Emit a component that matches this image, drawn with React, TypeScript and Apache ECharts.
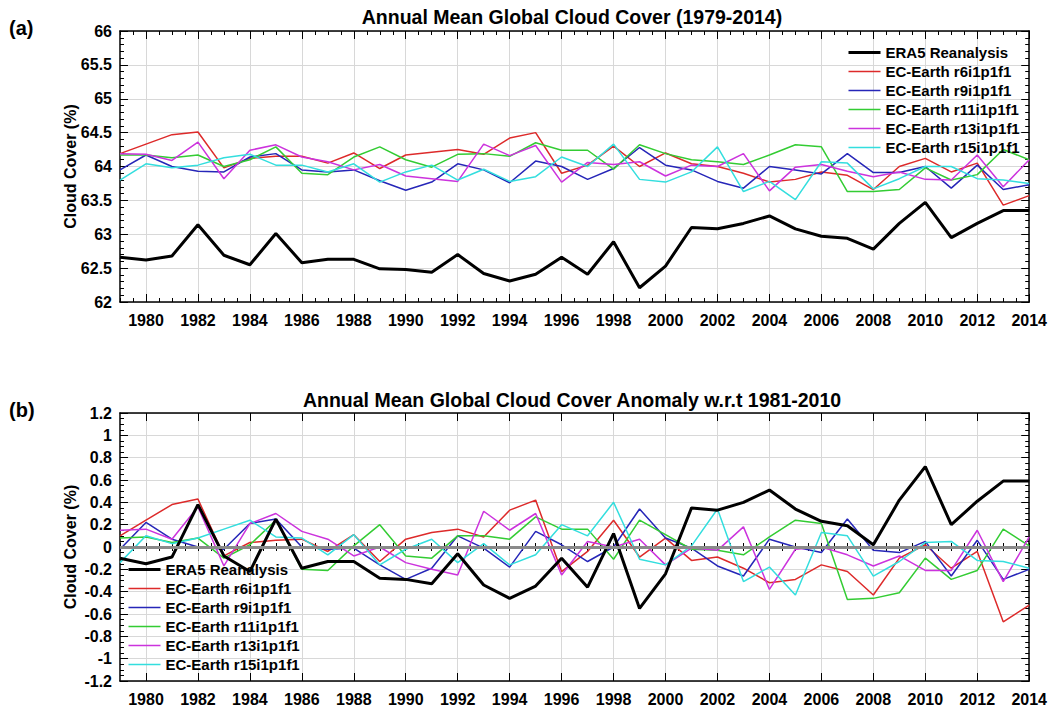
import React, { useEffect, useRef } from "react";
import * as echarts from "echarts";

const years = [
  "1979", "1980", "1981", "1982", "1983", "1984", "1985", "1986", "1987", "1988", "1989", "1990",
  "1991", "1992", "1993", "1994", "1995", "1996", "1997", "1998", "1999", "2000", "2001", "2002",
  "2003", "2004", "2005", "2006", "2007", "2008", "2009", "2010", "2011", "2012", "2013", "2014",
];

const seriesNames = [
  "ERA5 Reanalysis",
  "EC-Earth r6i1p1f1",
  "EC-Earth r9i1p1f1",
  "EC-Earth r11i1p1f1",
  "EC-Earth r13i1p1f1",
  "EC-Earth r15i1p1f1",
];

// Panel (a): annual mean cloud cover (%)
const era5A = [62.66, 62.62, 62.68, 63.14, 62.69, 62.55, 63.01, 62.58, 62.63, 62.63, 62.49, 62.48,
  62.44, 62.70, 62.42, 62.31, 62.41, 62.66, 62.41, 62.89, 62.21, 62.53, 63.10, 63.08,
  63.16, 63.27, 63.08, 62.97, 62.94, 62.78, 63.16, 63.47, 62.95, 63.16, 63.35, 63.35];
const r6A = [64.19, 64.33, 64.47, 64.51, 63.98, 64.12, 64.15, 64.15, 64.05, 64.20, 63.97, 64.17,
  64.21, 64.25, 64.18, 64.42, 64.50, 63.90, 64.02, 64.30, 64.00, 64.20, 64.04, 64.00,
  63.90, 63.77, 63.81, 63.92, 63.87, 63.66, 64.00, 64.12, 63.92, 64.05, 63.43, 63.57];
const r9A = [63.95, 64.17, 64.00, 63.93, 63.92, 64.14, 64.19, 63.95, 63.92, 63.95, 63.79, 63.65,
  63.77, 64.04, 63.95, 63.76, 64.08, 64.00, 63.81, 63.97, 64.28, 64.02, 63.95, 63.78,
  63.68, 64.00, 63.95, 63.89, 64.19, 63.91, 63.91, 64.00, 63.68, 64.02, 63.66, 63.73];
const r11A = [64.17, 64.17, 64.13, 64.17, 64.00, 64.10, 64.29, 63.90, 63.88, 64.14, 64.29, 64.10,
  63.99, 64.18, 64.19, 64.15, 64.35, 64.24, 64.24, 63.96, 64.32, 64.19, 64.10, 64.07,
  64.03, 64.17, 64.32, 64.29, 63.63, 63.63, 63.66, 63.98, 63.80, 63.88, 64.25, 64.10];
const r13A = [64.19, 64.18, 64.09, 64.36, 63.82, 64.24, 64.32, 64.14, 64.07, 63.95, 64.03, 63.86,
  63.82, 63.78, 64.33, 64.16, 64.31, 63.77, 64.06, 64.03, 64.07, 63.86, 64.02, 64.00,
  64.19, 63.64, 63.99, 64.03, 63.93, 63.85, 63.92, 63.81, 63.80, 64.17, 63.70, 64.10];
const r15A = [63.80, 64.04, 63.98, 64.02, 64.13, 64.18, 64.02, 64.02, 63.92, 64.04, 63.77, 63.92,
  64.02, 63.80, 63.96, 63.78, 63.85, 64.14, 64.00, 64.33, 63.81, 63.77, 63.92, 64.29,
  63.63, 63.78, 63.51, 64.07, 64.05, 63.67, 63.82, 64.00, 64.00, 63.82, 63.80, 63.75];

// Panel (b): anomaly w.r.t. 1981-2010 (%)
const era5B = [-0.10, -0.15, -0.09, 0.38, -0.08, -0.22, 0.25, -0.19, -0.13, -0.13, -0.28, -0.29,
  -0.33, -0.06, -0.34, -0.46, -0.35, -0.10, -0.36, 0.12, -0.55, -0.24, 0.35, 0.33,
  0.40, 0.51, 0.34, 0.23, 0.19, 0.02, 0.42, 0.72, 0.20, 0.41, 0.59, 0.59];
const r6B = [0.10, 0.24, 0.38, 0.43, -0.08, 0.04, 0.06, 0.07, -0.04, 0.11, -0.13, 0.07,
  0.13, 0.16, 0.09, 0.33, 0.42, -0.22, -0.04, 0.24, -0.09, 0.08, -0.12, -0.09,
  -0.19, -0.32, -0.29, -0.16, -0.22, -0.43, -0.10, 0.02, -0.19, -0.04, -0.67, -0.52];
const r9B = [-0.02, 0.22, 0.07, 0.00, -0.02, 0.21, 0.25, 0.00, -0.02, -0.01, -0.16, -0.29,
  -0.19, 0.10, -0.01, -0.18, 0.14, 0.02, -0.13, 0.00, 0.34, 0.08, -0.01, -0.17,
  -0.26, 0.07, 0.00, -0.05, 0.25, -0.03, -0.05, 0.05, -0.26, 0.06, -0.29, -0.20];
const r11B = [0.08, 0.09, 0.04, 0.08, -0.10, 0.02, 0.24, -0.20, -0.21, 0.01, 0.20, -0.08,
  -0.10, 0.10, 0.10, 0.07, 0.27, 0.16, 0.16, -0.11, 0.24, 0.11, -0.02, -0.03,
  -0.07, 0.09, 0.24, 0.21, -0.47, -0.46, -0.41, -0.10, -0.29, -0.21, 0.16, 0.01];
const r13B = [0.15, 0.16, 0.07, 0.36, -0.17, 0.21, 0.30, 0.14, 0.07, -0.08, 0.00, -0.14,
  -0.20, -0.25, 0.32, 0.15, 0.30, -0.25, 0.05, 0.00, 0.07, -0.16, -0.01, -0.03,
  0.18, -0.38, -0.02, 0.00, -0.07, -0.17, -0.08, -0.21, -0.21, 0.15, -0.31, 0.09];
const r15B = [-0.14, 0.10, 0.03, 0.08, 0.16, 0.24, 0.09, 0.08, -0.07, 0.11, -0.16, -0.02,
  0.07, -0.14, 0.03, -0.16, -0.07, 0.20, 0.10, 0.40, -0.11, -0.16, 0.01, 0.34,
  -0.31, -0.18, -0.43, 0.13, 0.10, -0.26, -0.13, 0.04, 0.05, -0.12, -0.13, -0.19];

const colors = ["#000000", "#dd2a2a", "#2626b8", "#33cc33", "#cc33dd", "#33dede"];
const widths = [3, 1.5, 1.5, 1.5, 1.5, 1.5];

const FONT = "Arial, 'Liberation Sans', Helvetica, sans-serif";
const evenYear = (_i: number, v: string) => Number(v) % 2 === 0;

function xAxesFor(grid: number) {
  const common = {
    gridIndex: grid,
    type: "category" as const,
    data: years,
    boundaryGap: false,
    axisLine: { show: true, onZero: false, lineStyle: { color: "#000", width: 1.5 } },
    axisTick: { show: true, inside: true, length: 8, interval: evenYear, lineStyle: { color: "#000" } },
  };
  return [
    {
      ...common,
      position: "bottom",
      axisLabel: {
        show: true, interval: evenYear, color: "#000", fontSize: 16, fontWeight: "bold",
        fontFamily: FONT, margin: 10,
      },
      splitLine: { show: true, interval: evenYear, lineStyle: { color: "#d8d8d8", width: 1 } },
    },
    {
      ...common,
      position: "top",
      axisLabel: { show: false },
      splitLine: { show: false },
    },
    {
      gridIndex: grid, type: "value", min: 1979, max: 2014, interval: 0.5, position: "bottom",
      axisLine: { show: false }, axisLabel: { show: false }, splitLine: { show: false },
      axisTick: { show: true, inside: true, length: 4, lineStyle: { color: "#000" } },
    },
    {
      gridIndex: grid, type: "value", min: 1979, max: 2014, interval: 0.5, position: "top",
      axisLine: { show: false }, axisLabel: { show: false }, splitLine: { show: false },
      axisTick: { show: true, inside: true, length: 4, lineStyle: { color: "#000" } },
    },
  ];
}

function yAxesFor(grid: number, min: number, max: number, interval: number, minorSplit: number) {
  const common = {
    gridIndex: grid, type: "value" as const, min, max, interval,
    axisLine: { show: true, onZero: false, lineStyle: { color: "#000", width: 1.5 } },
    axisTick: { show: true, inside: true, length: 8, lineStyle: { color: "#000" } },
    minorTick: { show: true, splitNumber: minorSplit, length: 4, lineStyle: { color: "#000" } },
  };
  return [
    {
      ...common,
      position: "left",
      name: "Cloud Cover (%)",
      nameLocation: "middle",
      nameGap: 42,
      nameMoveOverlap: false,
      nameRotate: 90,
      nameTextStyle: { color: "#000", fontSize: 16, fontWeight: "bold", fontFamily: FONT },
      axisLabel: {
        color: "#000", fontSize: 16, fontWeight: "bold", fontFamily: FONT, margin: 8,
        formatter: (v: number) => String(Math.round(v * 10) / 10),
      },
      splitLine: { show: true, lineStyle: { color: "#d8d8d8", width: 1 } },
    },
    {
      ...common,
      position: "right",
      axisLabel: { show: false },
      splitLine: { show: false },
    },
  ];
}

export default function App() {
  const ref = useRef<HTMLDivElement>(null);
  useEffect(() => {
    if (!ref.current) return;
    const chart = echarts.init(ref.current, undefined, { renderer: "svg" });
    const dataA = [era5A, r6A, r9A, r11A, r13A, r15A];
    const dataB = [era5B, r6B, r9B, r11B, r13B, r15B];
    const mk = (data: number[][], xi: number, yi: number, withZero: boolean) =>
      data.map((d, i) => ({
        name: seriesNames[i],
        type: "line",
        xAxisIndex: xi,
        yAxisIndex: yi,
        data: d,
        symbol: "none",
        z: i === 0 ? 3 : 2,
        lineStyle: { color: colors[i], width: widths[i] },
        itemStyle: { color: colors[i] },
        markLine: withZero && i === 0
          ? {
              silent: true, symbol: "none", label: { show: false },
              lineStyle: { color: "#8a8a8a", width: 3, type: "solid" },
              data: [{ yAxis: 0 }],
            }
          : undefined,
      }));
    const legendCommon = {
      orient: "vertical",
      data: seriesNames.map((n, i) => ({
        name: n,
        lineStyle: { color: colors[i], width: widths[i] },
        itemStyle: { opacity: 0, borderWidth: 0 },
      })),
      itemWidth: 32,
      itemHeight: 14,
      itemGap: 4,
      padding: 0,
      selectedMode: false,
      itemStyle: { opacity: 0, borderWidth: 0 },
      textStyle: { color: "#000", fontSize: 15, fontWeight: "bold", fontFamily: FONT },
    };
    chart.setOption({
      animation: false,
      backgroundColor: "#fff",
      grid: [
        { left: 120, right: 20, top: 31, height: 271 },
        { left: 120, right: 20, top: 413, height: 268 },
      ],
      xAxis: [...xAxesFor(0), ...xAxesFor(1)],
      yAxis: [...yAxesFor(0, 62, 66, 0.5, 5), ...yAxesFor(1, -1.2, 1.2, 0.2, 4)],
      legend: [
        { ...legendCommon, left: 847, top: 45 },
        { ...legendCommon, left: 127, top: 562 },
      ],
      graphic: [
        {
          type: "text", x: 572, y: 17,
          style: {
            text: "Annual Mean Global Cloud Cover (1979-2014)", fill: "#000",
            fontSize: 19.5, fontWeight: "bold", fontFamily: FONT,
            textAlign: "center", textVerticalAlign: "middle",
          },
        },
        {
          type: "text", x: 572, y: 400,
          style: {
            text: "Annual Mean Global Cloud Cover Anomaly w.r.t 1981-2010", fill: "#000",
            fontSize: 19.5, fontWeight: "bold", fontFamily: FONT,
            textAlign: "center", textVerticalAlign: "middle",
          },
        },
        {
          type: "text", x: 9, y: 28,
          style: { text: "(a)", fill: "#000", fontSize: 20, fontWeight: "bold", fontFamily: FONT, textVerticalAlign: "middle" },
        },
        {
          type: "text", x: 9, y: 410,
          style: { text: "(b)", fill: "#000", fontSize: 20, fontWeight: "bold", fontFamily: FONT, textVerticalAlign: "middle" },
        },
      ],
      series: [...mk(dataA, 0, 0, false), ...mk(dataB, 4, 2, true)],
    });
    return () => chart.dispose();
  }, []);
  return (
    <div
      ref={ref}
      style={{ position: "fixed", left: 0, top: 0, width: 1050, height: 709, background: "#fff" }}
    />
  );
}
